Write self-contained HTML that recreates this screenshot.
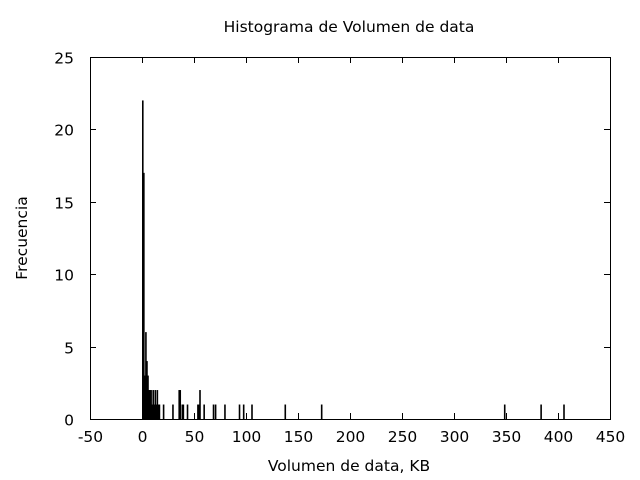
<!DOCTYPE html>
<html><head><meta charset="utf-8"><style>
body{margin:0;background:#fff}
svg{display:block;font-family:"DejaVu Sans","Liberation Sans",sans-serif;font-size:15.5px}
</style></head><body>
<svg id="chart" width="640" height="480">
<text x="349" y="32" text-anchor="middle">Histograma de Volumen de data</text>
<text x="349" y="471" text-anchor="middle">Volumen de data, KB</text>
<text transform="translate(27,238) rotate(-90)" text-anchor="middle">Frecuencia</text>
<g id="bars"></g><g id="axes"></g>
</svg>
<script>
const binValues=[0,1,2,3,4,5,6,7,8,9,10,11,12,13,14,15,16,20,29,35,36,38,39,43,53,54,55,59,68,70,79,93,97,105,137,172,348,383,405];
const binCounts=[22,17,3,6,4,3,2,2,2,1,2,1,2,1,2,1,1,1,1,2,2,1,1,1,1,1,2,1,1,1,1,1,1,1,1,1,1,1,1];
const xTicks=[-50,0,50,100,150,200,250,300,350,400,450];
const yTicks=[0,5,10,15,20,25];
const L=90,R=610,T=57,B=419;
const sx=v=>L+(v+50)/500*(R-L);
const sy=v=>B-v/25*(B-T);
const NS="http://www.w3.org/2000/svg";
const bars=document.getElementById('bars'),axes=document.getElementById('axes');
function mk(tag,at,parent){const e=document.createElementNS(NS,tag);for(const k in at)e.setAttribute(k,at[k]);parent.appendChild(e);return e;}
binValues.forEach((v,i)=>{
  const r=mk('rect',{x:sx(v),y:sy(binCounts[i]),width:Math.max(sx(v+1)-sx(v),1.6),height:B-sy(binCounts[i]),fill:'#000'},bars);
  
  
});
const f=mk('rect',{x:L+0.5,y:T+0.5,width:R-L,height:B-T,fill:'none',stroke:'#000','stroke-width':1},axes);


xTicks.forEach(t=>{
  const x=Math.round(sx(t))+0.5;
  mk('line',{x1:x,x2:x,y1:B,y2:B-6,stroke:'#000'},axes);
  mk('line',{x1:x,x2:x,y1:T,y2:T+6,stroke:'#000'},axes);
  const tx=mk('text',{x:x,y:B+23,'text-anchor':'middle'},axes);
  tx.textContent=t;
  
  
});
yTicks.forEach(t=>{
  const y=Math.round(sy(t))+0.5;
  mk('line',{x1:L,x2:L+6,y1:y,y2:y,stroke:'#000'},axes);
  mk('line',{x1:R,x2:R-6,y1:y,y2:y,stroke:'#000'},axes);
  const tx=mk('text',{x:L-16,y:y+6,'text-anchor':'end'},axes);
  tx.textContent=t;
  
  
});
</script>
</body></html>
